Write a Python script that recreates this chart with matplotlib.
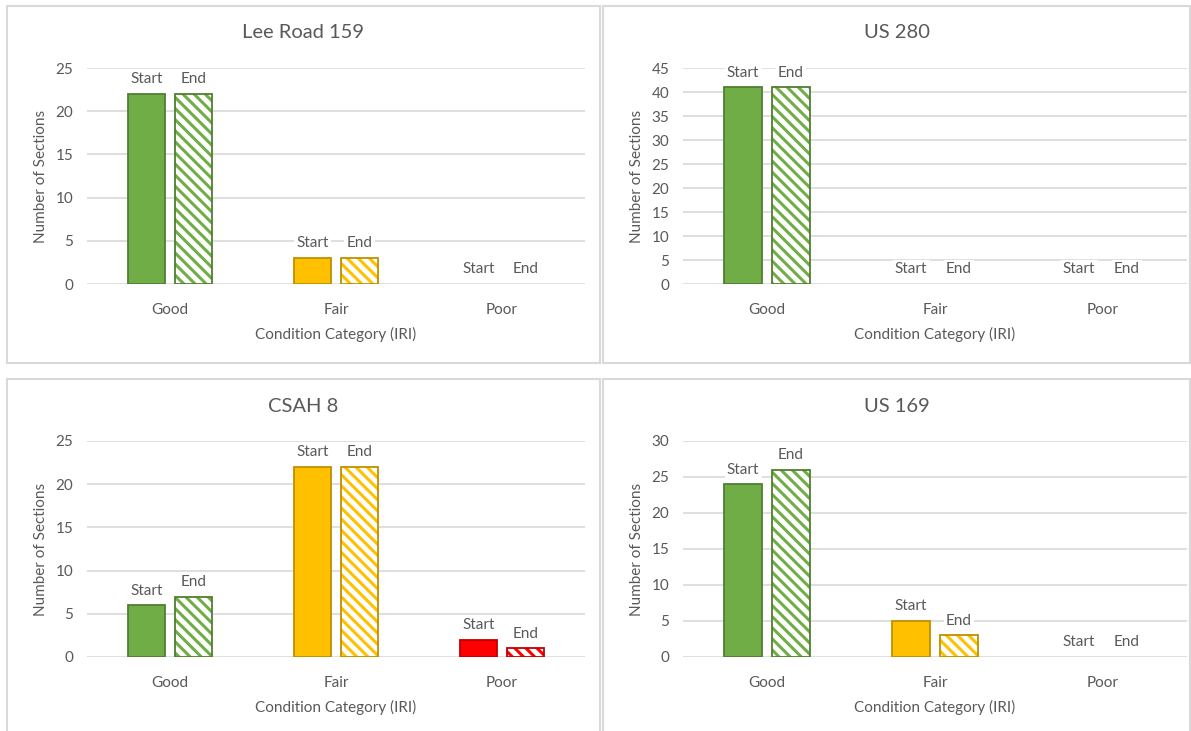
import numpy as np
import matplotlib
matplotlib.use('Agg')
from matplotlib import pyplot as plt
from matplotlib.patches import Rectangle

plt.rcParams['font.family'] = ['Lato', 'DejaVu Sans']
plt.rcParams['hatch.linewidth'] = 2.2

categories = ['Good', 'Fair', 'Poor']
titles = ['Lee Road 159', 'US 280', 'CSAH 8', 'US 169']
start_counts = [[22, 3, 0], [41, 0, 0], [6, 22, 2], [24, 5, 0]]
end_counts = [[22, 3, 0], [41, 0, 0], [7, 22, 1], [26, 3, 0]]
y_max = [25, 45, 25, 30]

fill_colors = ['#70AD47', '#FFC000', '#FF0000']
edge_colors = ['#507E32', '#BF9000', '#C00000']
text_gray = '#595959'
grid_gray = '#D9D9D9'

W, H = 1191, 731
fig = plt.figure(figsize=(W / 100, H / 100), dpi=100)

# panel frames (pixel boxes: left, top, right, bottom)
frames = [(7, 6, 600, 363), (603, 6, 1190, 363), (7, 379, 600, 740), (603, 379, 1190, 740)]
for l, t, r, b in frames:
    fig.patches.append(Rectangle((l / W, 1 - b / H), (r - l) / W, (b - t) / H,
                                 transform=fig.transFigure, facecolor='none',
                                 edgecolor=grid_gray, linewidth=1.5))

# axes boxes in pixels: left, top(y max), width, bottom(y=0)
boxes = [(87, 68, 498, 284), (683, 68, 504, 284), (87, 441, 498, 657), (683, 441, 504, 657)]
title_y = [32, 32, 407, 407]

bw = 0.225
off = 0.142
x = np.arange(len(categories))

for i, (l, t, w, b) in enumerate(boxes):
    ax = fig.add_axes([l / W, 1 - b / H, w / W, (b - t) / H])
    for j in range(len(categories)):
        s = start_counts[i][j]
        e = end_counts[i][j]
        lw_s = 1.3 if s > 0 else 0
        lw_e = 1.3 if e > 0 else 0
        ax.bar(x[j] - off, s, bw, color=fill_colors[j], edgecolor=edge_colors[j],
               linewidth=lw_s, zorder=3)
        ax.bar(x[j] + off, e, bw, color='white', edgecolor=fill_colors[j],
               hatch='\\\\\\', linewidth=0, zorder=3)
        ax.bar(x[j] + off, e, bw, color='none', edgecolor=edge_colors[j],
               linewidth=lw_e, zorder=4)
        for xv, v, lab in [(x[j] - off, s, 'Start'), (x[j] + off, e, 'End')]:
            ax.annotate(lab, (xv, v), xytext=(0, 5.5), textcoords='offset points',
                        ha='center', va='bottom', fontsize=11, color=text_gray,
                        zorder=5, bbox=dict(boxstyle='square,pad=0.15', fc='white', ec='none'))
    ax.set_xlim(-0.5, 2.5)
    ax.set_ylim(0, y_max[i])
    ax.set_yticks(np.arange(0, y_max[i] + 1, 5))
    ax.set_xticks(x)
    ax.set_xticklabels(categories)
    ax.tick_params(length=0, labelsize=11, labelcolor=text_gray)
    ax.tick_params(axis='x', pad=14)
    ax.tick_params(axis='y', pad=10)
    ax.grid(axis='y', color=grid_gray, linewidth=1.2, zorder=0)
    ax.set_axisbelow(True)
    for sp in ax.spines.values():
        sp.set_visible(False)
    fl, ft, fr, fb = frames[i]
    fig.text((fl + fr) / 2 / W, 1 - title_y[i] / H, titles[i], fontsize=14.5,
             color=text_gray, ha='center', va='center')
    ax.set_xlabel('Condition Category (IRI)', fontsize=11, color=text_gray, labelpad=7)
    ax.set_ylabel('Number of Sections', fontsize=11, color=text_gray, labelpad=5)

fig.savefig('out.png', dpi=100, facecolor='white')
